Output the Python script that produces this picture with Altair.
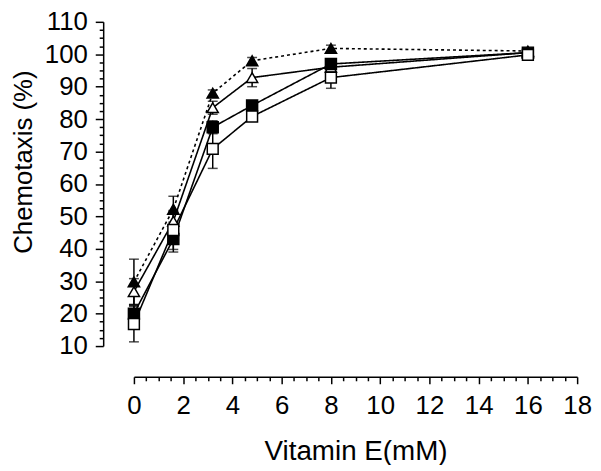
import altair as alt
import pandas as pd

conc = [0, 1.6, 3.2, 4.8, 8, 16]
series_names = ["filled_tri", "open_tri", "filled_sq", "open_sq"]
filled_tri = [29.8, 52.2, 88.0, 98.0, 101.8, 101.0]
open_tri = [26.8, 48.5, 83.5, 92.8, 96.0, 100.5]
filled_sq = [20.0, 43.0, 77.5, 84.2, 97.0, 100.5]
open_sq = [16.8, 45.8, 70.8, 80.8, 92.8, 99.8]
err_filled_tri = [7.0, 4.0, 1.0, 1.0, 1.0, 0.5]
err_open_tri = [4.0, 3.0, 2.0, 2.8, 2.0, 0.5]
err_filled_sq = [2.5, 4.0, 2.0, 1.0, 1.5, 0.5]
err_open_sq = [5.5, 6.0, 6.0, 1.0, 3.3, 0.5]

x_major = [0, 2, 4, 6, 8, 10, 12, 14, 16, 18]
x_minor = [i * 0.5 for i in range(0, 37) if i % 4 != 0]
y_major_a = [10, 30, 50, 70, 90, 110]
y_major_b = [20, 40, 60, 80, 100]
y_minor = [10 + i * 2.5 for i in range(0, 41) if i % 4 != 0]

rows = []
for name, ys, es in zip(series_names,
                        [filled_tri, open_tri, filled_sq, open_sq],
                        [err_filled_tri, err_open_tri, err_filled_sq, err_open_sq]):
    for xv, yv, ev in zip(conc, ys, es):
        rows.append({"series": name, "x": xv, "y": yv, "lo": yv - ev, "hi": yv + ev})
df = pd.DataFrame(rows)

font = "Liberation Sans"
no_overlap = {"expr": "false"}

xscale = alt.Scale(domain=[0, 18], nice=False, zero=False)
yscale = alt.Scale(domain=[10, 110], nice=False, zero=False)

xaxis = alt.Axis(
    title="Vitamin E(mM)", values=x_major, offset=31, grid=False, orient="bottom",
    labelOverlap=no_overlap, labelFlush=False, tickSize=7,
    domainColor="black", tickColor="black", domainWidth=1.5, tickWidth=1.5,
    labelFont=font, labelFontSize=26, labelColor="black", labelPadding=9,
    titleFont=font, titleFontSize=28, titleFontWeight="normal", titleColor="black",
    titlePadding=19,
)
yaxis = alt.Axis(
    title="Chemotaxis (%)", values=y_major_a, offset=31, grid=False, orient="left",
    labelOverlap=no_overlap, labelFlush=False, tickSize=8,
    domainColor="black", tickColor="black", domainWidth=1.5, tickWidth=1.5,
    labelFont=font, labelFontSize=26, labelColor="black", labelPadding=8,
    titleFont=font, titleFontSize=26, titleFontWeight="normal", titleColor="black",
    titlePadding=10, titleY=141,
)
yaxis_b = alt.Axis(
    title=None, values=y_major_b, offset=31, grid=False, orient="left",
    labelOverlap=no_overlap, labelFlush=False, tickSize=8, domain=False,
    tickColor="black", tickWidth=1.5,
    labelFont=font, labelFontSize=26, labelColor="black", labelPadding=8,
)
xaxis_minor = alt.Axis(
    title=None, values=x_minor, offset=31, grid=False, orient="bottom",
    labels=False, domain=False, tickSize=4, tickColor="black", tickWidth=1.5,
)
yaxis_minor = alt.Axis(
    title=None, values=y_minor, offset=31, grid=False, orient="left",
    labels=False, domain=False, tickSize=4, tickColor="black", tickWidth=1.5,
)

base = alt.Chart(df)

lines = base.mark_line(color="black", strokeWidth=1.6).encode(
    x=alt.X("x:Q", scale=xscale, axis=xaxis),
    y=alt.Y("y:Q", scale=yscale, axis=yaxis),
    detail="series:N",
    strokeDash=alt.StrokeDash("series:N",
                              scale=alt.Scale(domain=series_names,
                                              range=[[3, 3], [1, 0], [1, 0], [1, 0]]),
                              legend=None),
)
rules = base.mark_rule(color="black", strokeWidth=1.5).encode(
    x=alt.X("x:Q", scale=xscale), y=alt.Y("lo:Q", scale=yscale), y2="hi:Q")
cap_lo = base.mark_tick(orient="horizontal", color="black", size=10, thickness=1.5).encode(
    x=alt.X("x:Q", scale=xscale), y=alt.Y("lo:Q", scale=yscale))
cap_hi = base.mark_tick(orient="horizontal", color="black", size=10, thickness=1.5).encode(
    x=alt.X("x:Q", scale=xscale), y=alt.Y("hi:Q", scale=yscale))
points = base.mark_point(strokeWidth=1.5, opacity=1, filled=False).encode(
    x=alt.X("x:Q", scale=xscale), y=alt.Y("y:Q", scale=yscale),
    shape=alt.Shape("series:N", scale=alt.Scale(domain=series_names,
                    range=["triangle-up", "triangle-up", "square", "square"]), legend=None),
    fill=alt.Fill("series:N", scale=alt.Scale(domain=series_names,
                  range=["black", "white", "black", "white"]), legend=None),
    stroke=alt.value("black"),
    size=alt.Size("series:N", scale=alt.Scale(domain=series_names,
                  range=[130, 120, 100, 100]), legend=None),
)

main = alt.layer(lines, rules, cap_lo, cap_hi, points)
minor = base.mark_point(opacity=0).encode(
    x=alt.X("x:Q", scale=xscale, axis=xaxis_minor),
    y=alt.Y("y:Q", scale=yscale, axis=yaxis_minor),
)
extra = base.mark_point(opacity=0).encode(
    x=alt.X("x:Q", scale=xscale, axis=None),
    y=alt.Y("y:Q", scale=yscale, axis=yaxis_b),
)

chart = alt.layer(main, minor, extra).resolve_scale(
    x="independent", y="independent"
).resolve_axis(x="independent", y="independent").properties(
    width=447, height=327,
    autosize=alt.AutoSizeParams(type="none"),
    padding={"left": 127, "top": 12, "right": 16, "bottom": 118},
    background="white",
).configure_view(stroke=None).configure_axis(labelOverlap=no_overlap)

chart.save("out.html", embed_options={"renderer": "svg", "actions": False})
